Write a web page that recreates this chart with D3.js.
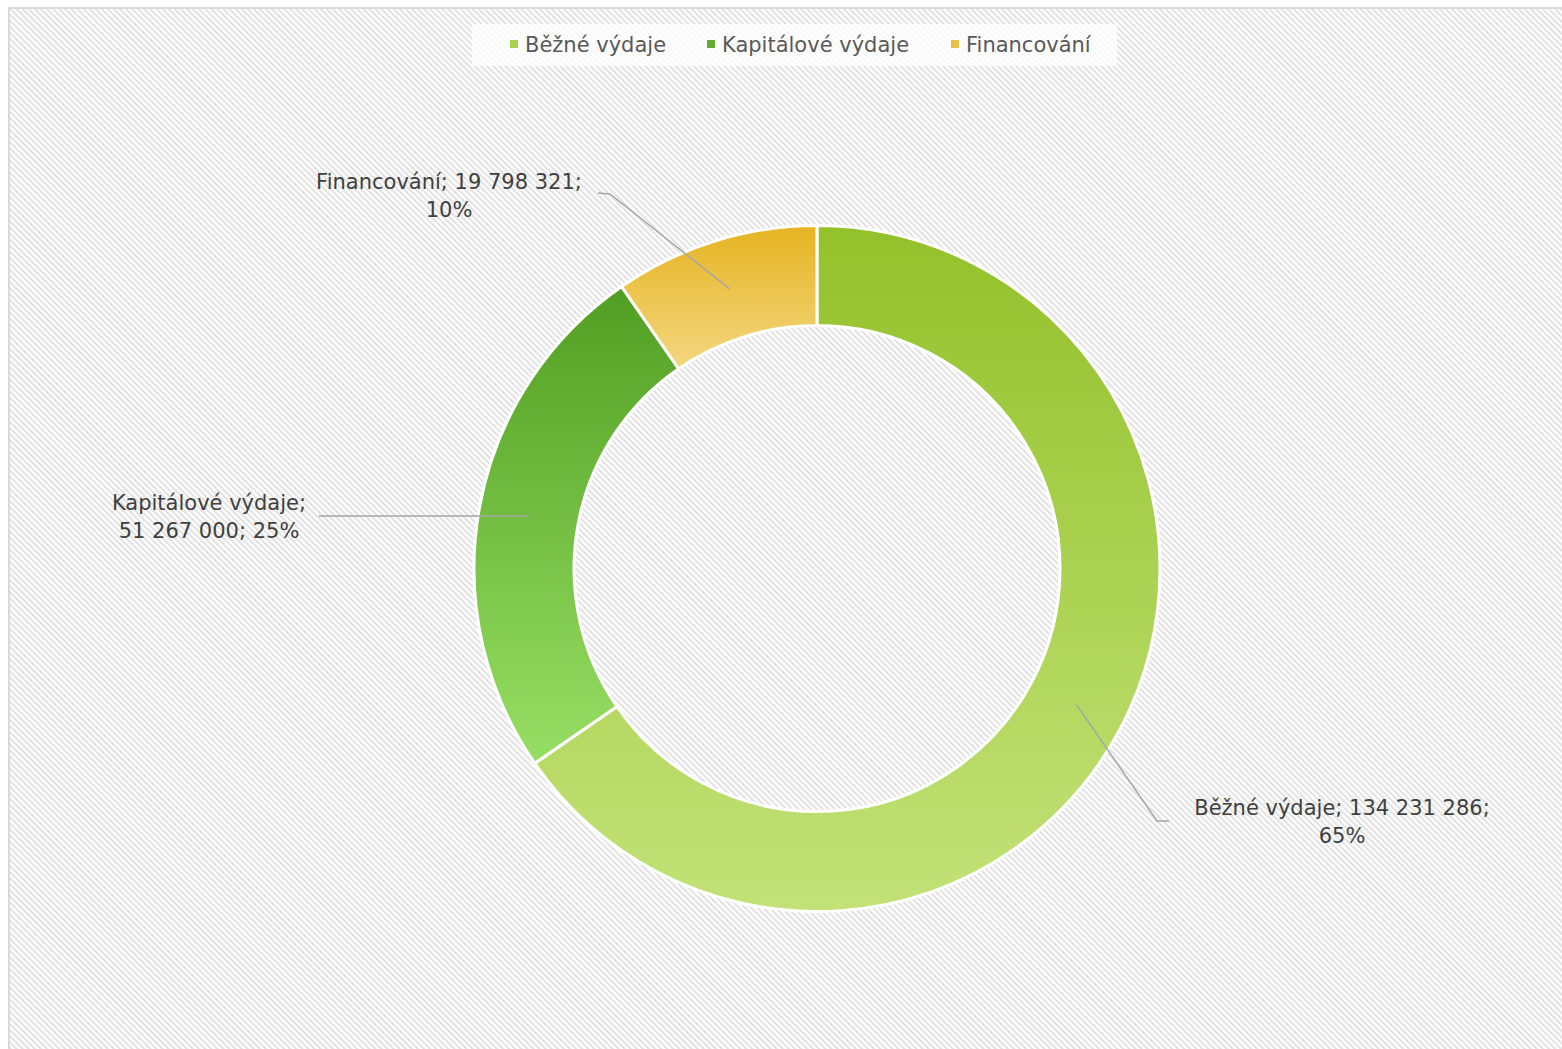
<!DOCTYPE html>
<html>
<head>
<meta charset="utf-8">
<script src="https://cdn.jsdelivr.net/npm/d3@7"></script>
<style>
  body { margin: 0; background: #fff; }
  svg { display: block; }
</style>
</head>
<body>
<script>
// data
var categories = ["Běžné výdaje", "Kapitálové výdaje", "Financování"];
var values = [134231286, 51267000, 19798321];
var labelLines = [
  ["Běžné výdaje; 134 231 286;", "65%"],
  ["Kapitálové výdaje;", "51 267 000; 25%"],
  ["Financování; 19 798 321;", "10%"]
];

// colours (top, bottom of each slice gradient)
var colourTop = ["#93c12a", "#519f22", "#e6b422"];
var colourBottom = ["#c2e278", "#97df64", "#f3d780"];
var legendColour = ["#a9d24c", "#5fae33", "#ebc249"];

var width = 1562, height = 1049;
var cx = 817, cy = 568.5, outerR = 343, innerR = 243;

// label layout: leader elbow/end and text anchor, relative to the centre
var labelLayout = [
  {elbow: [340, 252.5], end: [352, 252.5], text: [525, 246]},
  {elbow: [-498, -52.5], end: [-498, -52.5], text: [-608, -59]},
  {elbow: [-207, -374.5], end: [-219, -375.5], text: [-368, -380]}
];

var svg = d3.select("body").append("svg")
  .attr("width", width)
  .attr("height", height);

var defs = svg.append("defs");

// downward diagonal hatch background
var pat = defs.append("pattern")
  .attr("id", "hatch")
  .attr("patternUnits", "userSpaceOnUse")
  .attr("width", 4.3)
  .attr("height", 4.3)
  .attr("patternTransform", "rotate(-45)");
pat.append("rect").attr("width", 4.3).attr("height", 4.3).attr("fill", "#ffffff");
pat.append("rect").attr("width", 2.1).attr("height", 4.3).attr("fill", "#e2e2e2");

svg.append("rect")
  .attr("x", 0).attr("y", 0)
  .attr("width", width).attr("height", height)
  .attr("fill", "#ffffff");

svg.append("rect")
  .attr("x", 9).attr("y", 8)
  .attr("width", width + 20).attr("height", height + 20)
  .attr("fill", "url(#hatch)")
  .attr("stroke", "#d9d9d9")
  .attr("stroke-width", 2);

// gradients per slice
categories.forEach(function(c, i){
  var g = defs.append("linearGradient")
    .attr("id", "grad" + i)
    .attr("x1", 0).attr("y1", 0).attr("x2", 0).attr("y2", 1);
  g.append("stop").attr("offset", "0%").attr("stop-color", colourTop[i]);
  g.append("stop").attr("offset", "100%").attr("stop-color", colourBottom[i]);
});

var pie = d3.pie().sort(null).value(function(d){ return d; });
var arcs = pie(values);

var arc = d3.arc().innerRadius(innerR).outerRadius(outerR);
var midArc = d3.arc().innerRadius((innerR + outerR) / 2).outerRadius((innerR + outerR) / 2);

var chart = svg.append("g").attr("transform", "translate(" + cx + "," + cy + ")");

chart.selectAll("path.slice")
  .data(arcs)
  .enter().append("path")
  .attr("class", "slice")
  .attr("d", arc)
  .attr("fill", function(d, i){ return "url(#grad" + i + ")"; })
  .attr("stroke", "#ffffff")
  .attr("stroke-width", 3)
  .attr("stroke-linejoin", "round");

// leader lines
chart.selectAll("path.leader")
  .data(arcs)
  .enter().append("path")
  .attr("class", "leader")
  .attr("d", function(d, i){
    var c = midArc.centroid(d);
    var l = labelLayout[i];
    return "M" + c[0] + "," + c[1] + "L" + l.elbow[0] + "," + l.elbow[1] + "L" + l.end[0] + "," + l.end[1];
  })
  .attr("fill", "none")
  .attr("stroke", "#a6a6a6")
  .attr("stroke-width", 1.5);

// data labels
var labels = chart.selectAll("text.lbl")
  .data(arcs)
  .enter().append("text")
  .attr("class", "lbl")
  .attr("text-anchor", "middle")
  .attr("font-family", "'DejaVu Sans', sans-serif")
  .attr("font-size", 21)
  .attr("fill", "#404040");

labels.each(function(d, i){
  var t = d3.select(this);
  var l = labelLayout[i];
  labelLines[i].forEach(function(line, j){
    t.append("tspan")
      .attr("x", l.text[0])
      .attr("y", l.text[1] + j * 28)
      .text(line);
  });
});

// legend
var legend = svg.append("g");
legend.append("rect")
  .attr("x", 472).attr("y", 24)
  .attr("width", 645).attr("height", 42)
  .attr("fill", "#ffffff")
  .attr("fill-opacity", 0.75);

var legendX = [510, 707, 951];
var items = legend.selectAll("g.item")
  .data(categories)
  .enter().append("g")
  .attr("class", "item")
  .attr("transform", function(d, i){ return "translate(" + legendX[i] + ",44)"; });

items.append("rect")
  .attr("x", 0).attr("y", -4)
  .attr("width", 8).attr("height", 8)
  .attr("fill", function(d, i){ return legendColour[i]; });

items.append("text")
  .attr("x", 15).attr("y", 8)
  .attr("font-family", "'DejaVu Sans', sans-serif")
  .attr("font-size", 21)
  .attr("fill", "#595959")
  .text(function(d){ return d; });
</script>
</body>
</html>
